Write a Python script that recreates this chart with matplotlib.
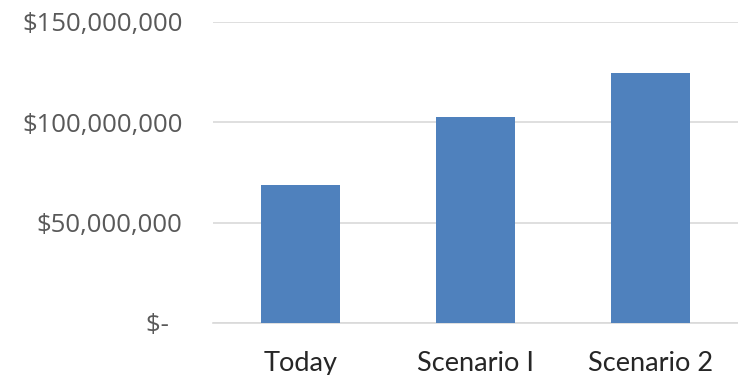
import matplotlib
matplotlib.use("Agg")
import matplotlib.pyplot as plt
from matplotlib.ticker import FixedLocator, FixedFormatter

categories = ["Today", "Scenario I", "Scenario 2"]
values = [69_000_000, 102_500_000, 124_500_000]
ytick_values = [0, 50_000_000, 100_000_000, 150_000_000]
ytick_labels = ["$-  ", "$50,000,000", "$100,000,000", "$150,000,000"]

fig = plt.figure(figsize=(7.38, 3.75), dpi=100)
ax = fig.add_axes([213/738, 1 - 323/375, 1 - 213/738, (323 - 22)/375])

x = list(range(len(categories)))
ax.bar(x, values, width=0.45, color="#4F81BD", zorder=3)

ax.set_xlim(-0.5, 2.5)
ax.set_ylim(0, 150_000_000)
ax.yaxis.set_major_locator(FixedLocator(ytick_values))
ax.yaxis.set_major_formatter(FixedFormatter(ytick_labels))
ax.set_xticks(x)
ax.set_xticklabels(categories, fontfamily="Lato", fontsize=19.5, color="#262626")
for lbl in ax.get_yticklabels():
    lbl.set_fontfamily("Open Sans")
    lbl.set_fontsize(18.5)
    lbl.set_color("#595959")

ax.grid(axis="y", color="#D9D9D9", linewidth=1.2, zorder=0)
for s in ["top", "right", "left"]:
    ax.spines[s].set_visible(False)
ax.spines["bottom"].set_color("#D9D9D9")
ax.spines["bottom"].set_linewidth(1.2)
ax.tick_params(axis="both", length=0)
ax.tick_params(axis="y", pad=22)
ax.tick_params(axis="x", pad=20)

fig.savefig("out.png", dpi=100)
